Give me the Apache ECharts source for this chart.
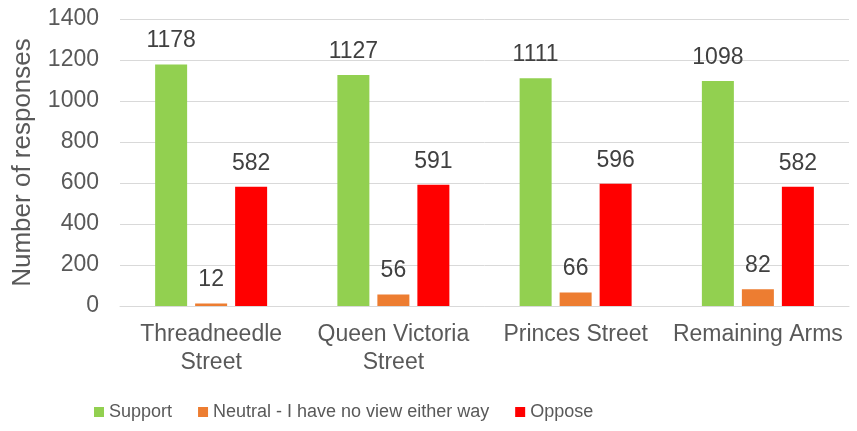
<!DOCTYPE html>
<html><head><meta charset="utf-8">
<script src="https://cdn.jsdelivr.net/npm/echarts@6/dist/echarts.min.js"></script>
<style>html,body{margin:0;padding:0;background:#fff}#c{width:857px;height:431px}</style>
</head><body><div id="c"></div>
<script>
const categories = ['Threadneedle\nStreet', 'Queen Victoria\nStreet', 'Princes Street', 'Remaining Arms'];
const support = [1178, 1127, 1111, 1098];
const neutral = [12, 56, 66, 82];
const oppose = [582, 591, 596, 582];
const seriesNames = ['Support', 'Neutral - I have no view either way', 'Oppose'];
const colors = ['#92D050', '#ED7D31', '#FF0000'];
const yTicks = {min: 0, max: 1400, interval: 200};
const FONT = '"Liberation Sans", Arial, sans-serif';
const chart = echarts.init(document.getElementById('c'));
const mk = (name, data, color) => ({
  name, type: 'bar', data, barWidth: 32, barGap: '25%',
  itemStyle: {color},
  label: {show: true, position: 'top', distance: 12, color: '#404040', fontSize: 23, fontFamily: FONT}
});
chart.setOption({
  animation: false,
  textStyle: {fontFamily: FONT},
  grid: {left: 120, right: 8, top: 19, bottom: 125, containLabel: false},
  legend: {
    top: 403, left: 94, padding: 0, itemWidth: 10, itemHeight: 10, itemGap: 26, icon: 'rect',
    textStyle: {color: '#595959', fontSize: 18, fontFamily: FONT},
    data: seriesNames
  },
  xAxis: {
    type: 'category', data: categories,
    axisLine: {lineStyle: {color: '#D9D9D9', width: 1}},
    axisTick: {show: false},
    axisLabel: {color: '#595959', fontSize: 23, fontFamily: FONT, lineHeight: 28, margin: 15, interval: 0}
  },
  yAxis: {
    type: 'value', min: yTicks.min, max: yTicks.max, interval: yTicks.interval,
    name: 'Number of responses', nameLocation: 'middle', nameGap: 84,
    nameTextStyle: {color: '#595959', fontSize: 26, fontFamily: FONT},
    axisLine: {show: false}, axisTick: {show: false},
    axisLabel: {color: '#595959', fontSize: 23, fontFamily: FONT, margin: 21, formatter: v => String(v)},
    splitLine: {lineStyle: {color: '#D9D9D9', width: 1}}
  },
  series: [mk(seriesNames[0], support, colors[0]), mk(seriesNames[1], neutral, colors[1]), mk(seriesNames[2], oppose, colors[2])]
});
</script></body></html>
